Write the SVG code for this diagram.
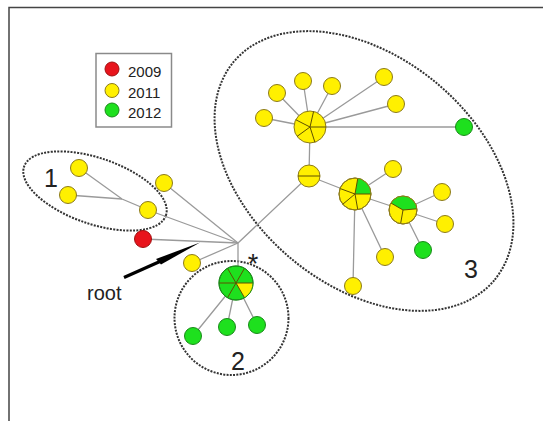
<svg xmlns="http://www.w3.org/2000/svg" width="543" height="421" viewBox="0 0 543 421">
<style>
.edge{stroke:#9a9a9a;stroke-width:1.3;fill:none}
.y{fill:#fff000;stroke:#8c7a1a;stroke-width:1}
.g{fill:#1ee01e;stroke:#1a8a1a;stroke-width:1}
.r{fill:#e8141c;stroke:#a01010;stroke-width:1}
.gs{fill:#1ee01e;stroke:none}
.div{stroke:#5e5000;stroke-width:1;fill:none}
.clu{fill:none;stroke:#333;stroke-width:2;stroke-dasharray:2 1.3}
.lab{font-family:"Liberation Sans",Arial,sans-serif;fill:#222}
</style>
<rect width="543" height="421" fill="#fff"/>
<path d="M9,421 V7.5 H543" fill="none" stroke="#444" stroke-width="1.5"/>

<g id="legend">
<rect x="96" y="53.5" width="75.5" height="73.5" fill="#fff" stroke="#8a8a8a" stroke-width="1.5"/>
<circle class="r" cx="112" cy="69" r="7"/>
<circle class="y" cx="112" cy="90.5" r="7"/>
<circle class="g" cx="112" cy="110" r="7"/>
<text class="lab" x="128" y="77" font-size="15">2009</text>
<text class="lab" x="128" y="98" font-size="15">2011</text>
<text class="lab" x="128" y="118" font-size="15">2012</text>
</g>

<g id="clusters">
<ellipse class="clu" cx="95" cy="191" rx="75" ry="33" transform="rotate(19 95 191)"/>
<circle class="clu" cx="231.5" cy="318" r="57"/>
<ellipse class="clu" cx="364" cy="171" rx="170" ry="114" transform="rotate(40 364 171)"/>
<text class="lab" x="51" y="187" font-size="25" text-anchor="middle">1</text>
<text class="lab" x="238" y="370" font-size="25" text-anchor="middle">2</text>
<text class="lab" x="471" y="278" font-size="25" text-anchor="middle">3</text>
</g>

<g id="connectors">
<path class="edge" d="M79,168 L122,199 L148,210 L238,243"/>
<path class="edge" d="M68,195 L122,199"/>
<path class="edge" d="M164,183 L238,243"/>
<path class="edge" d="M143,239 L238,243"/>
<path class="edge" d="M192,263 L238,243"/>
<path class="edge" d="M238,243 L238,266"/>
<path class="edge" d="M238,243 L309,176 L310,127"/>
<path class="edge" d="M309,176 L355,194 L403,210"/>
<path class="edge" d="M310,127 L264,118 M310,127 L277,93 M310,127 L303,81 M310,127 L332,86 M310,127 L384,77 M310,127 L396,104 M310,127 L464,127"/>
<path class="edge" d="M355,194 L393,169 M355,194 L385,257 M355,194 L353,286"/>
<path class="edge" d="M403,210 L442,192 M403,210 L445,224 M403,210 L423,250"/>
<path class="edge" d="M236,283 L193,336 M236,283 L227,327 M236,283 L257,325"/>
</g>

<g id="root-arrow">
<line x1="124" y1="277.5" x2="170" y2="257" stroke="#000" stroke-width="3.2"/>
<polygon points="200,242.5 156,259 161,264.5" fill="#000"/>
<text class="lab" x="87" y="300" font-size="20">root</text>
<text class="lab" x="253" y="273" font-size="27" text-anchor="middle">*</text>
</g>

<g id="c1-a"><circle class="y" cx="79" cy="168" r="8.5"/></g>
<g id="c1-b"><circle class="y" cx="68" cy="195" r="8.5"/></g>
<g id="c1-c"><circle class="y" cx="148" cy="210" r="8.5"/></g>
<g id="n-d"><circle class="y" cx="164" cy="183" r="8.5"/></g>
<g id="n-red"><circle class="r" cx="143" cy="239" r="8.5"/></g>
<g id="n-e"><circle class="y" cx="192" cy="263" r="8.5"/></g>

<g id="c2-hub">
<circle class="g" cx="236" cy="283" r="17"/>
<path d="M236,283 L253,283 A17,17 0 0 1 244.5,297.7 Z" fill="#fff000"/>
<path class="div" d="M219,283 H253 M227.5,268.3 L244.5,297.7 M244.5,268.3 L227.5,297.7"/>
<circle cx="236" cy="283" r="17" fill="none" stroke="#1a8a1a" stroke-width="1"/>
</g>
<g id="c2-a"><circle class="g" cx="193" cy="336" r="8.5"/></g>
<g id="c2-b"><circle class="g" cx="227" cy="327" r="8.5"/></g>
<g id="c2-c"><circle class="g" cx="257" cy="325" r="8.5"/></g>

<g id="c3-minus">
<circle class="y" cx="309" cy="176" r="11"/>
<line class="div" x1="298" y1="176" x2="320" y2="176" stroke-width="1.4"/>
</g>
<g id="c3-pie1">
<circle class="y" cx="310" cy="127" r="16"/>
<path class="div" d="M310,127 L295.7,119.7 M310,127 L313.6,111.4 M310,127 L326,127 M310,127 L314.9,142.2 M310,127 L297.1,136.4"/>
</g>
<g id="c3-p1a"><circle class="y" cx="264" cy="118" r="8.5"/></g>
<g id="c3-p1b"><circle class="y" cx="277" cy="93" r="8.5"/></g>
<g id="c3-p1c"><circle class="y" cx="303" cy="81" r="8.5"/></g>
<g id="c3-p1d"><circle class="y" cx="332" cy="86" r="8.5"/></g>
<g id="c3-p1e"><circle class="y" cx="384" cy="77" r="8.5"/></g>
<g id="c3-p1f"><circle class="y" cx="396" cy="104" r="8.5"/></g>
<g id="c3-p1g"><circle class="g" cx="464" cy="127" r="8.5"/></g>

<g id="c3-pie2">
<circle class="y" cx="355" cy="194" r="16"/>
<path class="gs" d="M355,194 L357.8,178.2 A16,16 0 0 1 371,194 Z"/>
<path class="div" d="M355,194 L340,188.5 M355,194 L357.8,178.2 M355,194 L371,194 M355,194 L357.8,209.8 M355,194 L342.7,204.3"/>
<circle cx="355" cy="194" r="16" fill="none" stroke="#8c7a1a" stroke-width="1"/>
</g>
<g id="c3-p2a"><circle class="y" cx="393" cy="169" r="8.5"/></g>
<g id="c3-p2b"><circle class="y" cx="385" cy="257" r="8.5"/></g>
<g id="c3-p2c"><circle class="y" cx="353" cy="286" r="8.5"/></g>

<g id="c3-pie3">
<circle class="y" cx="403" cy="210" r="14"/>
<path class="gs" d="M403,210 L390.9,203 A14,14 0 0 1 416.9,208.8 Z"/>
<path class="div" d="M403,210 L390.9,203 M403,210 L416.9,208.8 M403,210 L400.6,223.8"/>
<circle cx="403" cy="210" r="14" fill="none" stroke="#8c7a1a" stroke-width="1"/>
</g>
<g id="c3-p3a"><circle class="y" cx="442" cy="192" r="8.5"/></g>
<g id="c3-p3b"><circle class="y" cx="445" cy="224" r="8.5"/></g>
<g id="c3-p3c"><circle class="g" cx="423" cy="250" r="8.5"/></g>
</svg>
